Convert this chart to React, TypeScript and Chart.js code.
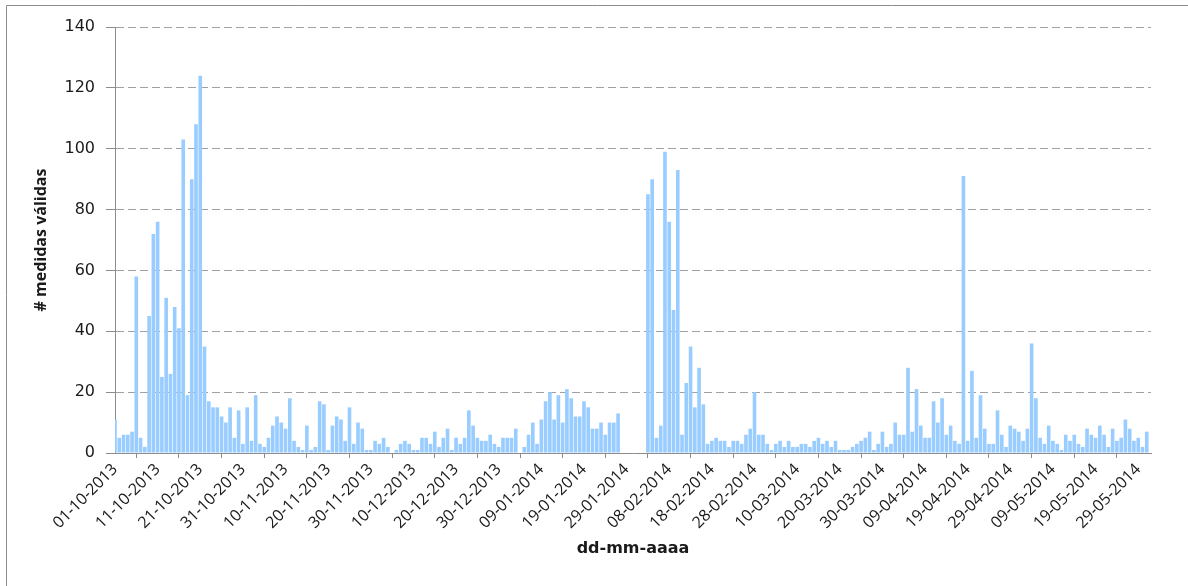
import React, { useEffect, useRef } from "react";
import { Chart, registerables } from "chart.js";

Chart.register(...registerables);

// Daily counts from 01-10-2013 to 01-06-2014 (one value per day)
const octValues = [11, 5, 6, 6, 7, 58, 5, 2, 45, 72, 76, 25, 51, 26, 48, 41, 103, 19, 90, 108, 124, 35, 17, 15, 15, 12, 10, 15, 5, 14, 3];
const novValues = [15, 4, 19, 3, 2, 5, 9, 12, 10, 8, 18, 4, 2, 1, 9, 1, 2, 17, 16, 1, 9, 12, 11, 4, 15, 3, 10, 8, 1, 1];
const decValues = [4, 3, 5, 2, 0, 1, 3, 4, 3, 1, 1, 5, 5, 3, 7, 2, 5, 8, 1, 5, 3, 5, 14, 9, 5, 4, 4, 6, 3, 2, 5];
const janValues = [5, 5, 8, 0, 2, 6, 10, 3, 11, 17, 20, 11, 19, 10, 21, 18, 12, 12, 17, 15, 8, 8, 10, 6, 10, 10, 13, 0, 0, 0, 0];
const febValues = [0, 0, 85, 90, 5, 9, 99, 76, 47, 93, 6, 23, 35, 15, 28, 16, 3, 4, 5, 4, 4, 2, 4, 4, 3, 6, 8, 20];
const marValues = [6, 6, 3, 1, 3, 4, 2, 4, 2, 2, 3, 3, 2, 4, 5, 3, 4, 2, 4, 1, 1, 1, 2, 3, 4, 5, 7, 1, 3, 7, 2];
const aprValues = [3, 10, 6, 6, 28, 7, 21, 9, 5, 5, 17, 10, 18, 6, 9, 4, 3, 91, 4, 27, 5, 19, 8, 3, 3, 14, 6, 2, 9, 8];
const mayValues = [7, 4, 8, 36, 18, 5, 3, 9, 4, 3, 1, 6, 4, 6, 3, 2, 8, 6, 5, 9, 6, 2, 8, 4, 5, 11, 8, 4, 5, 2, 7];
const junValues = [0];

const dailyValues = [
  ...octValues, ...novValues, ...decValues, ...janValues,
  ...febValues, ...marValues, ...aprValues, ...mayValues, ...junValues,
];

const startDate = Date.UTC(2013, 9, 1);
const pad2 = (n: number) => (n < 10 ? "0" + n : "" + n);
const dayLabels: string[] = dailyValues.map((_, i) => {
  const d = new Date(startDate + i * 86400000);
  return `${pad2(d.getUTCDate())}-${pad2(d.getUTCMonth() + 1)}-${d.getUTCFullYear()}`;
});

const labelEvery = 10;
const yTitle = "# medidas válidas";
const xTitle = "dd-mm-aaaa";

const frame = {
  id: "frame",
  beforeDraw(chart: any) {
    const ctx = chart.ctx;
    ctx.save();
    ctx.fillStyle = "#ffffff";
    ctx.fillRect(0, 0, chart.width, chart.height);
    ctx.strokeStyle = "#8c8c8c";
    ctx.lineWidth = 1;
    ctx.beginPath();
    ctx.moveTo(6.5, chart.height);
    ctx.lineTo(6.5, 5.5);
    ctx.lineTo(chart.width, 5.5);
    ctx.stroke();
    ctx.restore();
  },
};

export default function App() {
  const ref = useRef<HTMLCanvasElement | null>(null);

  useEffect(() => {
    document.body.style.margin = "0";
    const canvas = ref.current;
    if (!canvas) return;
    const chart = new Chart(canvas, {
      type: "bar",
      data: {
        labels: dayLabels,
        datasets: [
          {
            data: dailyValues,
            backgroundColor: "#99ccff",
            borderWidth: 0,
            barPercentage: 0.85,
            categoryPercentage: 1,
          },
        ],
      },
      options: {
        responsive: false,
        animation: false,
        devicePixelRatio: 1,
        layout: { padding: { top: 27, right: 37, left: 0, bottom: 0 } },
        plugins: {
          legend: { display: false },
          tooltip: { enabled: false },
        },
        scales: {
          x: {
            type: "category",
            offset: false,
            afterFit: (s: any) => {
              s.height = 133;
            },
            grid: {
              drawOnChartArea: false,
              drawTicks: true,
              tickLength: 5,
              tickColor: "#8c8c8c",
            },
            border: { display: true, color: "#8c8c8c", width: 1 },
            ticks: {
              autoSkip: false,
              maxRotation: 45,
              minRotation: 45,
              padding: 2,
              color: "#1a1a1a",
              font: { family: "'Open Sans'", size: 16 },
              callback: (_v: any, i: number) =>
                i % labelEvery === 0 ? dayLabels[i] : null,
            },
            title: {
              display: true,
              text: xTitle,
              color: "#1a1a1a",
              font: { family: "'DejaVu Sans'", size: 16, weight: "bold" },
              padding: { top: 0, bottom: 28 },
            },
          },
          y: {
            min: 0,
            max: 140,
            afterFit: (s: any) => {
              s.width = 115;
            },
            ticks: {
              stepSize: 20,
              padding: 11,
              color: "#1a1a1a",
              font: { family: "'DejaVu Sans'", size: 16 },
            },
            grid: {
              color: (c: any) =>
                c.tick && c.tick.value === 0 ? "rgba(0,0,0,0)" : "#a0a0a0",
              tickColor: "#8c8c8c",
              tickLength: 9,
              tickBorderDash: [],
            },
            border: { display: true, color: "#8c8c8c", width: 1, dash: [8, 4] },
            title: {
              display: true,
              text: yTitle,
              color: "#1a1a1a",
              font: { family: "'Open Sans'", size: 16, weight: "bold" },
              padding: { top: 32, bottom: 0 },
            },
          },
        },
      },
      plugins: [frame],
    });
    return () => chart.destroy();
  }, []);

  return (
    <div style={{ width: 1188, height: 586 }}>
      <canvas ref={ref} width={1188} height={586} style={{ display: "block" }} />
    </div>
  );
}
